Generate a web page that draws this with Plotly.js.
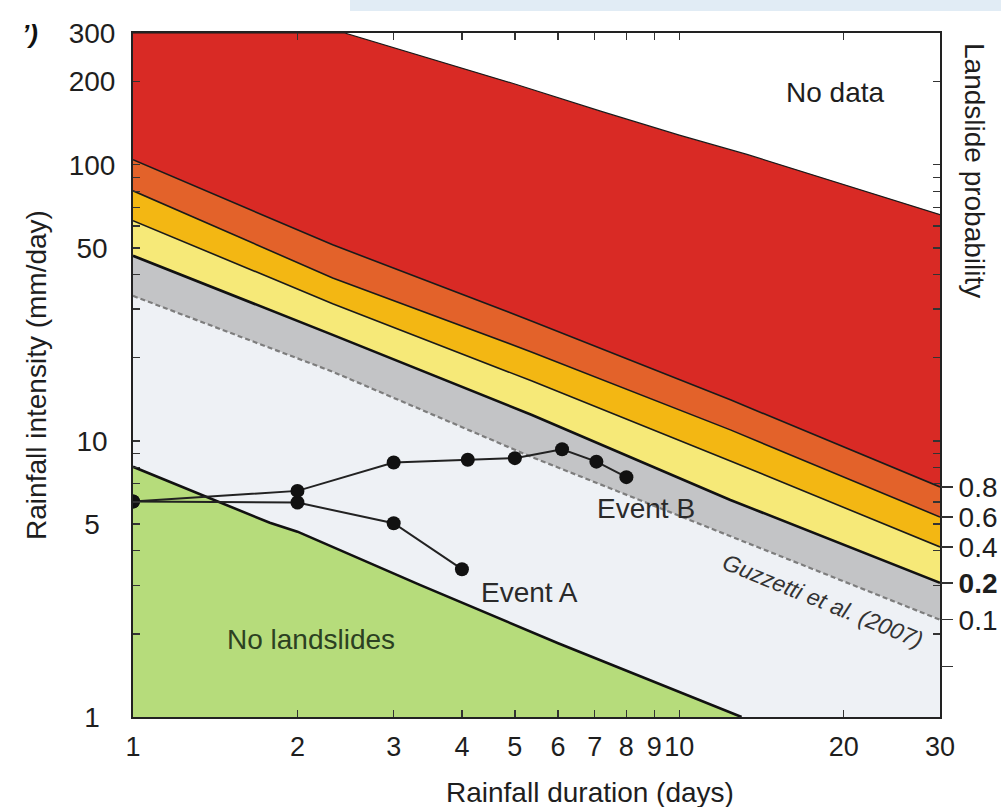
<!DOCTYPE html>
<html>
<head>
<meta charset="utf-8">
<script src="https://cdn.plot.ly/plotly-3.0.1.min.js"></script>
<style>
  html, body { margin: 0; padding: 0; background: #ffffff; }
  #chart { width: 1001px; height: 807px; }
</style>
</head>
<body>
<div id="chart"></div>
<script>
// ---- axis ranges ----
const xMin = 1, xMax = 30;
const yMin = 1, yMax = 300;

// ---- tick labels ----
const xTickVals = [1, 2, 3, 4, 5, 6, 7, 8, 9, 10, 20, 30];
const xTickText = ['1', '2', '3', '4', '5', '6', '7', '8', '9', '10', '20', '30'];
const yTickVals = [1, 2, 3, 4, 5, 6, 7, 8, 9, 10, 20, 30, 40, 50, 60, 70, 80, 90, 100, 200, 300];
const yTickText = ['1', '', '', '', '5', '', '', '', '', '10', '', '', '', '50', '', '', '', '', '100', '200', '300'];
const probLabels = ['0.8', '0.6', '0.4', '<b>0.2</b>', '0.1'];
const extraRightTickVals = [1.52];

// ---- probability boundary lines (rainfall duration, days -> intensity, mm/day) ----
const durBreaks = [1, 2.32, 5.36, 12.4, 30];
const p01 = [33.5, 17.8, 8.75, 4.53, 2.25];   // Guzzetti et al. (2007) threshold
const p02 = [46.8, 24.2, 12.43, 6.11, 3.06];
const p04 = [62.7, 31.4, 16.5, 8.46, 4.13];
const p06 = [80.5, 38.9, 21.0, 10.96, 5.30];
const p08 = [104.3, 51.3, 27.2, 14.08, 6.81];

// upper limit of data ("No data" above)
const noDataX = [1, 2.44, 5, 7.2, 10, 13.3, 30];
const noDataY = [300, 300, 196, 156, 128, 109, 66];

// lower limit ("No landslides" below)
const noSlideX = [1, 1.78, 2, 3.35, 6, 8, 13];
const noSlideY = [8.06, 5.05, 4.69, 3.01, 1.85, 1.47, 1];

// ---- rainfall events ----
const eventAX = [1, 2, 3, 4];
const eventAY = [6.03, 5.98, 5.03, 3.43];
const eventBX = [1, 2, 3, 4.1, 5, 6.1, 7.05, 8];
const eventBY = [6.03, 6.59, 8.35, 8.54, 8.66, 9.33, 8.41, 7.39];

// ---- colours ----
const cLight = '#eef1f5', cGray = '#c3c4c6', cYellow = '#f6e978', cGold = '#f3b713',
      cOrange = '#e3622a', cRed = '#d92a25', cGreen = '#b6dc7b';

function pad3(t) {
  if (!t) return t;
  const n = 3 - t.length;
  return t + '\u00A0'.repeat(Math.max(0, n));
}

const thinLine = { color: '#1a1a1a', width: 1.6 };

const traces = [
  { x: [xMin, xMax], y: [yMin, yMin], mode: 'lines', line: { width: 0 }, hoverinfo: 'skip', showlegend: false },
  { x: durBreaks, y: p01, mode: 'lines', fill: 'tonexty', fillcolor: cLight,
    line: { color: '#7d7d7d', width: 2.2, dash: '5px,3px' }, showlegend: false },
  { x: durBreaks, y: p02, mode: 'lines', fill: 'tonexty', fillcolor: cGray,
    line: { color: '#111111', width: 2.6 }, showlegend: false },
  { x: durBreaks, y: p04, mode: 'lines', fill: 'tonexty', fillcolor: cYellow, line: thinLine, showlegend: false },
  { x: durBreaks, y: p06, mode: 'lines', fill: 'tonexty', fillcolor: cGold, line: thinLine, showlegend: false },
  { x: durBreaks, y: p08, mode: 'lines', fill: 'tonexty', fillcolor: cOrange, line: thinLine, showlegend: false },
  { x: noDataX, y: noDataY, mode: 'lines', fill: 'tonexty', fillcolor: cRed, line: { color: '#1a1a1a', width: 1.2 }, showlegend: false },
  { x: [noSlideX[0], noSlideX[noSlideX.length - 1]], y: [yMin, yMin], mode: 'lines', line: { width: 0 }, hoverinfo: 'skip', showlegend: false },
  { x: noSlideX, y: noSlideY, mode: 'lines', fill: 'tonexty', fillcolor: cGreen,
    line: { color: '#111111', width: 2.6 }, showlegend: false },
  { x: eventAX, y: eventAY, mode: 'lines+markers', line: { color: '#222222', width: 2 },
    marker: { color: '#111111', size: 14 }, showlegend: false },
  { x: eventBX, y: eventBY, mode: 'lines+markers', line: { color: '#222222', width: 2 },
    marker: { color: '#111111', size: 14 }, showlegend: false },
  // dummy trace to activate right axis
  { x: [xMin], y: [yMin], yaxis: 'y2', mode: 'markers', marker: { opacity: 0 }, hoverinfo: 'skip', showlegend: false }
];

const rightTickVals = [p08, p06, p04, p02, p01].map(a => a[a.length - 1]).concat(extraRightTickVals);
const rightTickText = probLabels.concat(extraRightTickVals.map(() => ''));

const font = 'Liberation Sans, Arial, Helvetica, sans-serif';
const L = 133, R = 61, T = 33, B = 90, W = 1001, H = 807;
const pw = W - L - R, ph = H - T - B;
const px = v => (v - L) / pw;
const py = v => (H - B - v) / ph;

function note(text, x, y, size, color, extra) {
  return Object.assign({ text: text, xref: 'paper', yref: 'paper', x: px(x), y: py(y),
    xanchor: 'center', yanchor: 'middle', showarrow: false,
    font: { size: size, color: color } }, extra || {});
}

const layout = {
  width: W, height: H,
  margin: { l: L, r: R, t: T, b: B, pad: 0 },
  paper_bgcolor: '#ffffff',
  plot_bgcolor: '#ffffff',
  font: { family: font, size: 28, color: '#1e1e1e' },
  showlegend: false,
  hovermode: false,
  xaxis: {
    type: 'log', range: [Math.log10(xMin), Math.log10(xMax)],
    tickvals: xTickVals, ticktext: xTickText, tickangle: 0,
    ticks: 'inside', ticklen: 7, tickwidth: 1.3, tickcolor: '#333',
    showline: true, linecolor: '#222', linewidth: 2, mirror: 'ticks',
    showgrid: false, zeroline: false, automargin: false,
    tickfont: { size: 27, color: '#1e1e1e' }, ticklabelstandoff: 5
  },
  yaxis: {
    type: 'log', range: [Math.log10(yMin), Math.log10(yMax)],
    tickvals: yTickVals, ticktext: yTickText.map(pad3),
    ticks: 'inside', ticklen: 7, tickwidth: 1.3, tickcolor: '#333',
    showline: true, linecolor: '#222', linewidth: 2, mirror: 'ticks',
    showgrid: false, zeroline: false, automargin: false,
    tickfont: { size: 28, color: '#1e1e1e' }, ticklabelstandoff: 10,
    title: { text: 'Rainfall intensity (mm/day)', font: { size: 28, color: '#1e1e1e' }, standoff: 14 }
  },
  yaxis2: {
    type: 'log', range: [Math.log10(yMin), Math.log10(yMax)],
    overlaying: 'y', side: 'right',
    tickvals: rightTickVals, ticktext: rightTickText,
    ticks: 'outside', ticklen: 12, tickwidth: 1.3, tickcolor: '#333',
    showline: false, showgrid: false, zeroline: false, automargin: false,
    tickfont: { size: 28, color: '#1e1e1e' }
  },
  shapes: [
    { type: 'rect', xref: 'paper', yref: 'paper', x0: px(350), x1: px(1001), y0: py(0), y1: py(11),
      fillcolor: '#e1ecf5', line: { width: 0 }, layer: 'below' }
  ],
  annotations: [
    note('Rainfall duration (days)', 590, 792, 28, '#1e1e1e'),
    note('Landslide probability', 975, 170, 28, '#1e1e1e', { textangle: 90 }),
    note('No data', 835, 92, 28, '#1e1e1e'),
    note('Event B', 646, 508, 28, '#2a2a2a'),
    note('Event A', 529, 592, 28, '#2a2a2a'),
    note('No landslides', 311, 639, 28, '#2c4122'),
    note('<i>Guzzetti et al. (2007)</i>', 823, 601, 23, '#333333', { textangle: 22 }),
    note('<b><i>’)</i></b>', 30, 34, 26, '#111111')
  ]
};

Plotly.newPlot('chart', traces, layout, { displayModeBar: false, staticPlot: true });
</script>
</body>
</html>
